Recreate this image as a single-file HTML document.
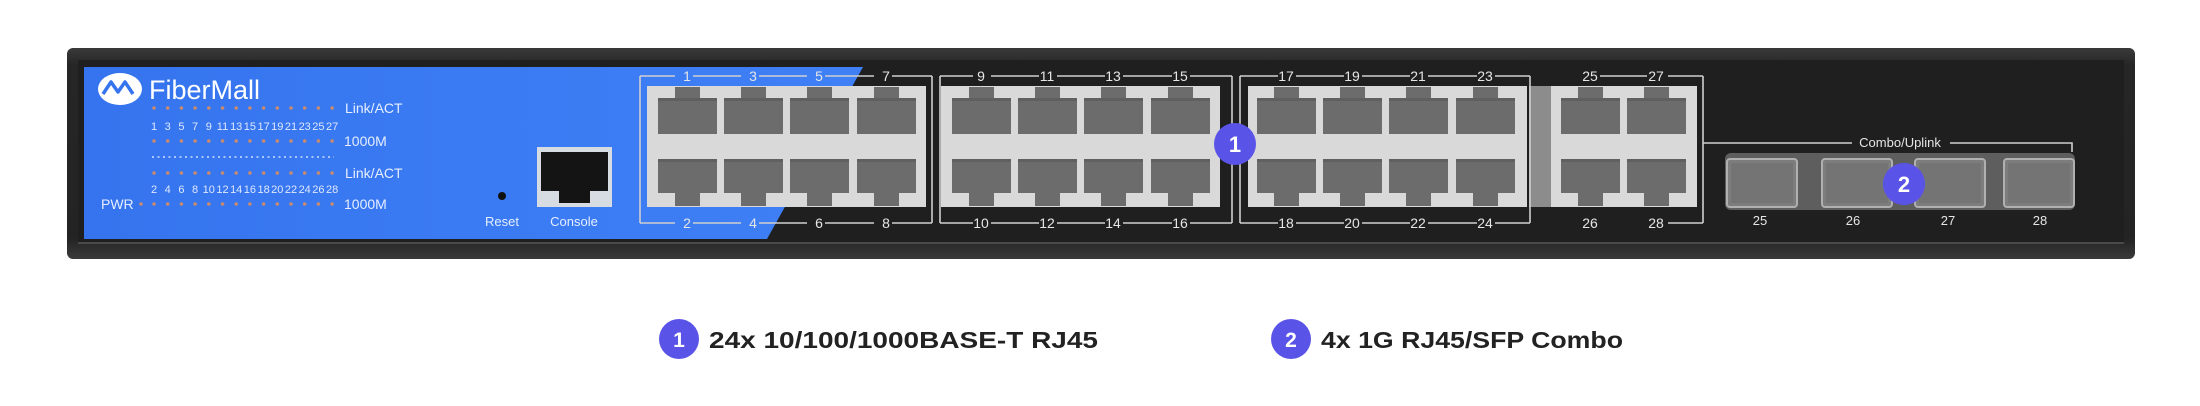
<!DOCTYPE html>
<html><head><meta charset="utf-8"><style>
html,body{margin:0;padding:0;background:#fff;}
svg{display:block;}
text{font-family:"Liberation Sans",sans-serif;}
</style></head><body>
<svg width="2200" height="406" viewBox="0 0 2200 406" xmlns="http://www.w3.org/2000/svg">
<defs>
<linearGradient id="blue" x1="0" y1="0" x2="1" y2="0">
<stop offset="0" stop-color="#3574ee"/><stop offset="1" stop-color="#3f80f6"/></linearGradient>
<linearGradient id="ch" x1="0" y1="0" x2="0" y2="1">
<stop offset="0" stop-color="#3a3a3a"/><stop offset="0.08" stop-color="#262626"/><stop offset="0.9" stop-color="#232323"/><stop offset="1" stop-color="#3a3a3a"/></linearGradient>
<g id="pt">
<path d="M0 11 H17 V0 H42 V11 H59 V47 H0 Z" fill="#6c6c6c"/>
<rect x="0" y="11" width="59" height="3" fill="#606060"/>
</g>
<g id="pb">
<path d="M0 0 H59 V34 H42 V47 H17 V34 H0 Z" fill="#6c6c6c"/>
<rect x="0" y="0" width="59" height="3" fill="#606060"/>
</g>
<g id="sfp">
<rect x="0" y="0" width="70" height="48" rx="3" fill="#7d7d7d" stroke="#b0b0b0" stroke-width="2"/>
<rect x="4" y="4" width="62" height="40" fill="#747474"/>
</g>
<g id="ledrow">
<circle cx="154" cy="0" r="1.8"/><circle cx="167.7" cy="0" r="1.8"/><circle cx="181.4" cy="0" r="1.8"/><circle cx="195.1" cy="0" r="1.8"/><circle cx="208.8" cy="0" r="1.8"/><circle cx="222.5" cy="0" r="1.8"/><circle cx="236.2" cy="0" r="1.8"/><circle cx="249.9" cy="0" r="1.8"/><circle cx="263.6" cy="0" r="1.8"/><circle cx="277.3" cy="0" r="1.8"/><circle cx="291" cy="0" r="1.8"/><circle cx="304.7" cy="0" r="1.8"/><circle cx="318.4" cy="0" r="1.8"/><circle cx="332.1" cy="0" r="1.8"/>
</g>
</defs>

<!-- chassis -->
<rect x="67" y="48" width="2068" height="211" rx="6" fill="url(#ch)"/>
<rect x="78" y="60" width="2046" height="184" fill="#1f1f1f"/>
<line x1="78" y1="243" x2="2124" y2="243" stroke="#4a4a4a" stroke-width="2"/>
<!-- blue panel -->
<path d="M84 67 H863 L767 239 H84 Z" fill="url(#blue)"/>

<!-- logo -->
<ellipse cx="120" cy="89" rx="22" ry="16" fill="#fff"/>
<path d="M103 94 L111 82 L118 92 L125 82 L133 94" fill="none" stroke="#3574ee" stroke-width="3.5" stroke-linejoin="round"/>
<text x="149" y="99" font-size="27" fill="#fff">FiberMall</text>

<!-- LEDs -->
<g fill="#c98a6e">
<use href="#ledrow" y="108"/><use href="#ledrow" y="141"/><use href="#ledrow" y="173"/><use href="#ledrow" y="204"/>
<circle cx="141" cy="204" r="1.8"/>
</g>
<line x1="152" y1="157" x2="334" y2="157" stroke="#cfe0ff" stroke-width="1.6" stroke-dasharray="2 3.5"/>
<g font-size="11" fill="#dfe8ff" text-anchor="middle">
<text y="130"><tspan x="154">1</tspan><tspan x="167.7">3</tspan><tspan x="181.4">5</tspan><tspan x="195.1">7</tspan><tspan x="208.8">9</tspan><tspan x="222.5">11</tspan><tspan x="236.2">13</tspan><tspan x="249.9">15</tspan><tspan x="263.6">17</tspan><tspan x="277.3">19</tspan><tspan x="291">21</tspan><tspan x="304.7">23</tspan><tspan x="318.4">25</tspan><tspan x="332.1">27</tspan></text>
<text y="193"><tspan x="154">2</tspan><tspan x="167.7">4</tspan><tspan x="181.4">6</tspan><tspan x="195.1">8</tspan><tspan x="208.8">10</tspan><tspan x="222.5">12</tspan><tspan x="236.2">14</tspan><tspan x="249.9">16</tspan><tspan x="263.6">18</tspan><tspan x="277.3">20</tspan><tspan x="291">22</tspan><tspan x="304.7">24</tspan><tspan x="318.4">26</tspan><tspan x="332.1">28</tspan></text>
</g>
<g font-size="14" fill="#e6eeff">
<text x="345" y="113">Link/ACT</text>
<text x="344" y="146">1000M</text>
<text x="345" y="178">Link/ACT</text>
<text x="344" y="209">1000M</text>
<text x="101" y="209">PWR</text>
</g>

<!-- reset / console -->
<circle cx="502" cy="196" r="4" fill="#111"/>
<text x="502" y="226" font-size="13" fill="#e6eeff" text-anchor="middle">Reset</text>
<rect x="537" y="147" width="75" height="60" fill="#d7dbe2"/>
<path d="M541 152 H608 V191 H590 V203 H559 V191 H541 Z" fill="#141414"/>
<text x="574" y="226" font-size="13" fill="#e6eeff" text-anchor="middle">Console</text>

<!-- port blocks -->
<g fill="#d9d9d9">
<rect x="647" y="86" width="279" height="121"/>
<rect x="941" y="86" width="279" height="121"/>
<rect x="1248" y="86" width="279" height="121"/>
<rect x="1551" y="86" width="146" height="121"/>
</g>
<rect x="1529" y="86" width="22" height="121" fill="#8c8c8c"/>
<g>
<use href="#pt" x="658" y="87"/><use href="#pt" x="724" y="87"/><use href="#pt" x="790" y="87"/><use href="#pt" x="857" y="87"/>
<use href="#pb" x="658" y="159"/><use href="#pb" x="724" y="159"/><use href="#pb" x="790" y="159"/><use href="#pb" x="857" y="159"/>
<use href="#pt" x="952" y="87"/><use href="#pt" x="1018" y="87"/><use href="#pt" x="1084" y="87"/><use href="#pt" x="1151" y="87"/>
<use href="#pb" x="952" y="159"/><use href="#pb" x="1018" y="159"/><use href="#pb" x="1084" y="159"/><use href="#pb" x="1151" y="159"/>
<use href="#pt" x="1257" y="87"/><use href="#pt" x="1323" y="87"/><use href="#pt" x="1389" y="87"/><use href="#pt" x="1456" y="87"/>
<use href="#pb" x="1257" y="159"/><use href="#pb" x="1323" y="159"/><use href="#pb" x="1389" y="159"/><use href="#pb" x="1456" y="159"/>
<use href="#pt" x="1561" y="87"/><use href="#pt" x="1627" y="87"/>
<use href="#pb" x="1561" y="159"/><use href="#pb" x="1627" y="159"/>
</g>

<!-- brackets -->
<g stroke="#cfcfcf" stroke-width="1.6" fill="none">
<line x1="640" y1="76" x2="640" y2="223"/><line x1="932" y1="76" x2="932" y2="223"/>
<line x1="940" y1="76" x2="940" y2="223"/><line x1="1232" y1="76" x2="1232" y2="223"/>
<line x1="1240" y1="76" x2="1240" y2="223"/><line x1="1530" y1="76" x2="1530" y2="223"/>
<line x1="1703" y1="76" x2="1703" y2="223"/>
<line x1="640" y1="76" x2="932" y2="76" stroke-dasharray="35 18 48 18 48 18 49 18 200"/>
<line x1="640" y1="223" x2="932" y2="223" stroke-dasharray="35 18 48 18 48 18 49 18 200"/>
<line x1="940" y1="76" x2="1232" y2="76" stroke-dasharray="33 18 48 18 48 18 49 18 200"/>
<line x1="940" y1="223" x2="1232" y2="223" stroke-dasharray="33 18 48 18 48 18 49 18 200"/>
<line x1="1240" y1="76" x2="1530" y2="76" stroke-dasharray="38 18 48 18 48 18 49 18 200"/>
<line x1="1240" y1="223" x2="1530" y2="223" stroke-dasharray="38 18 48 18 48 18 49 18 200"/>
<line x1="1600" y1="76" x2="1647" y2="76"/><line x1="1668" y1="76" x2="1703" y2="76"/>
<line x1="1668" y1="223" x2="1703" y2="223"/>
<path d="M1703 143 H1852 M1950 143 H2072 V152"/>
</g>
<g font-size="14" fill="#e6e6e6" text-anchor="middle">
<text y="81"><tspan x="687">1</tspan><tspan x="753">3</tspan><tspan x="819">5</tspan><tspan x="886">7</tspan><tspan x="981">9</tspan><tspan x="1047">11</tspan><tspan x="1113">13</tspan><tspan x="1180">15</tspan><tspan x="1286">17</tspan><tspan x="1352">19</tspan><tspan x="1418">21</tspan><tspan x="1485">23</tspan><tspan x="1590">25</tspan><tspan x="1656">27</tspan></text>
<text y="228"><tspan x="687">2</tspan><tspan x="753">4</tspan><tspan x="819">6</tspan><tspan x="886">8</tspan><tspan x="981">10</tspan><tspan x="1047">12</tspan><tspan x="1113">14</tspan><tspan x="1180">16</tspan><tspan x="1286">18</tspan><tspan x="1352">20</tspan><tspan x="1418">22</tspan><tspan x="1485">24</tspan><tspan x="1590">26</tspan><tspan x="1656">28</tspan></text>
<text x="1900" y="147" font-size="13">Combo/Uplink</text>
<text y="225" font-size="13"><tspan x="1760">25</tspan><tspan x="1853">26</tspan><tspan x="1948">27</tspan><tspan x="2040">28</tspan></text>
</g>

<!-- SFP -->
<rect x="1725" y="153" width="350" height="57" rx="6" fill="#5e5e5e"/>
<use href="#sfp" x="1727" y="159"/><use href="#sfp" x="1822" y="159"/><use href="#sfp" x="1915" y="159"/><use href="#sfp" x="2004" y="159"/>

<!-- badges -->
<circle cx="1235" cy="144" r="21" fill="#5a53e8"/>
<text x="1235" y="152" font-size="22" font-weight="bold" fill="#fff" text-anchor="middle">1</text>
<circle cx="1904" cy="184" r="21" fill="#5a53e8"/>
<text x="1904" y="192" font-size="22" font-weight="bold" fill="#fff" text-anchor="middle">2</text>

<!-- legend -->
<circle cx="679" cy="339" r="20" fill="#5a53e8"/>
<text x="679" y="347" font-size="21" font-weight="bold" fill="#fff" text-anchor="middle">1</text>
<text x="709" y="348" font-size="23" font-weight="bold" fill="#222" textLength="389" lengthAdjust="spacingAndGlyphs">24x 10/100/1000BASE-T RJ45</text>
<circle cx="1291" cy="339" r="20" fill="#5a53e8"/>
<text x="1291" y="347" font-size="21" font-weight="bold" fill="#fff" text-anchor="middle">2</text>
<text x="1321" y="348" font-size="23" font-weight="bold" fill="#222" textLength="302" lengthAdjust="spacingAndGlyphs">4x 1G RJ45/SFP Combo</text>
</svg>
</body></html>
